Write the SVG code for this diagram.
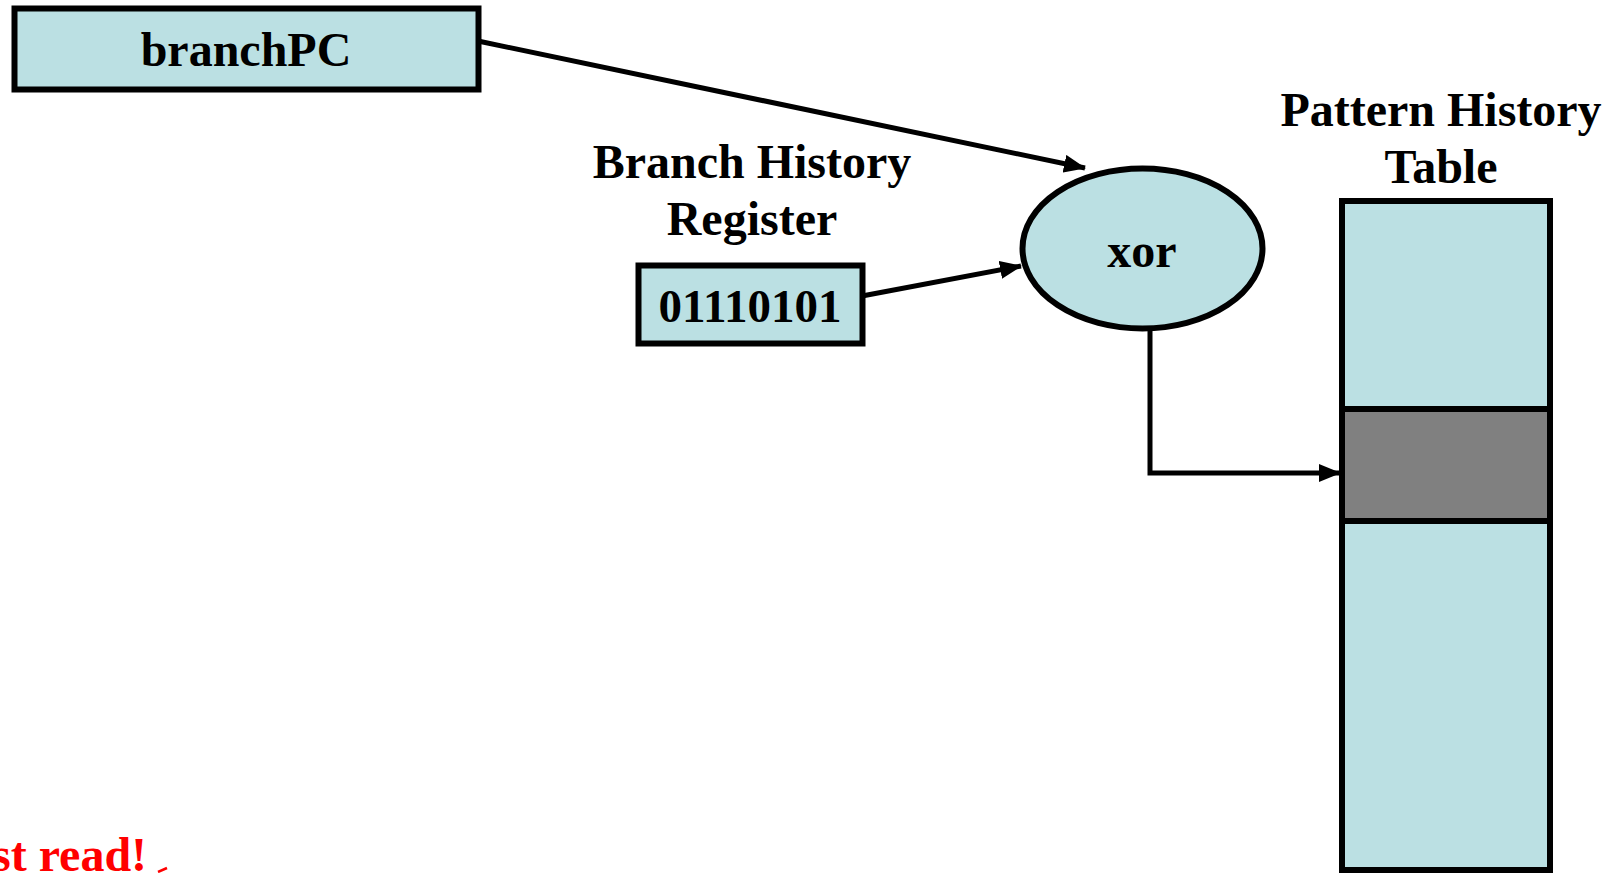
<svg xmlns="http://www.w3.org/2000/svg" width="1620" height="873" viewBox="0 0 1620 873">
  <style>
    .box { fill: #BBE0E3; stroke: #000; stroke-width: 6; }
    .lbl { font-family: "Liberation Serif", "Times New Roman", serif; font-weight: bold; font-size: 48px; fill: #000; text-anchor: middle; }
    .wire { fill: none; stroke: #000; stroke-width: 5; }
    .note { font-family: "Liberation Serif", "Times New Roman", serif; font-weight: bold; font-size: 48px; fill: #FF0000; }
  </style>
  <defs>
    <marker id="arrow" markerUnits="userSpaceOnUse" markerWidth="22" markerHeight="18" viewBox="0 0 22 18" refX="21" refY="9" orient="auto">
      <path d="M0,0 L22,9 L0,18 Z" fill="#000"/>
    </marker>
  </defs>
  <rect width="1620" height="873" fill="#fff"/>

  <g id="branchPC">
    <rect class="box" x="14.5" y="8.5" width="464" height="81"/>
    <text class="lbl" x="246" y="66">branchPC</text>
  </g>

  <g id="bhr">
    <text class="lbl" x="752" y="178">Branch History</text>
    <text class="lbl" x="752" y="235">Register</text>
    <rect class="box" x="638.5" y="265.5" width="224" height="78"/>
    <text class="lbl" x="750" y="322" style="font-size:47px">01110101</text>
  </g>

  <g id="xor">
    <ellipse class="box" cx="1142.5" cy="248.5" rx="120" ry="80"/>
    <text class="lbl" x="1142" y="267">xor</text>
  </g>

  <g id="pht">
    <text class="lbl" x="1441" y="126">Pattern History</text>
    <text class="lbl" x="1441" y="183">Table</text>
    <rect class="box" x="1342" y="201" width="208" height="669"/>
    <rect x="1342" y="409" width="208" height="112" fill="#808080" stroke="#000" stroke-width="6"/>
  </g>

  <g id="connectors">
    <line class="wire" x1="478" y1="41" x2="1085" y2="168" marker-end="url(#arrow)"/>
    <line class="wire" x1="862" y1="296" x2="1021" y2="266" marker-end="url(#arrow)"/>
    <polyline class="wire" points="1150,328 1150,473 1340,473" marker-end="url(#arrow)"/>
  </g>

  <g id="note">
    <text class="note" x="-8" y="871">st read!</text>
    <path d="M158,872 L167,868" stroke="#FF0000" stroke-width="2.5" fill="none"/>
  </g>
</svg>
